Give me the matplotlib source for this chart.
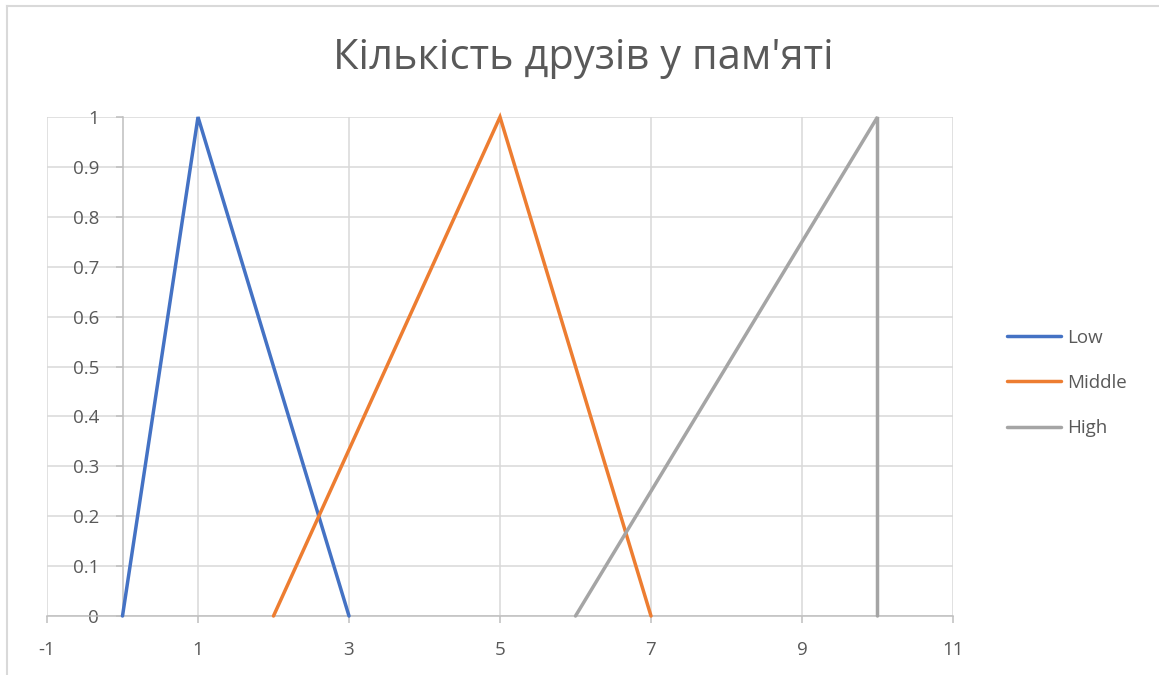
import matplotlib
matplotlib.use("Agg")
import matplotlib.pyplot as plt
from matplotlib.lines import Line2D

# Membership functions for the "number of friends in memory" variable
low_x = [0, 1, 3]
low_y = [0, 1, 0]
middle_x = [2, 5, 7]
middle_y = [0, 1, 0]
high_x = [6, 10, 10]
high_y = [0, 1, 0]

series_names = ["Low", "Middle", "High"]
series_colors = ["#4472C4", "#ED7D31", "#A5A5A5"]

title = "Кількість друзів у пам'яті"
x_ticks = [-1, 1, 3, 5, 7, 9, 11]
y_ticks = [0, 0.1, 0.2, 0.3, 0.4, 0.5, 0.6, 0.7, 0.8, 0.9, 1]
y_tick_labels = ["0", "0.1", "0.2", "0.3", "0.4", "0.5", "0.6", "0.7", "0.8", "0.9", "1"]

text_color = "#595959"
grid_color = "#D9D9D9"
axis_color = "#BFBFBF"

plt.rcParams["font.family"] = ["Open Sans", "DejaVu Sans"]
plt.rcParams["axes.unicode_minus"] = False

W, H = 1159, 675
fig = plt.figure(figsize=(W / 100, H / 100), dpi=100)
fig.patch.set_facecolor("white")

# Plot area in pixel coordinates
px_left, px_right = 47, 953
px_top, px_bottom = 117, 616
ax = fig.add_axes([px_left / W, (H - px_bottom) / H,
                   (px_right - px_left) / W, (px_bottom - px_top) / H])

ax.set_xlim(-1, 11)
ax.set_ylim(0, 1)

for xs, ys, name, col in zip([low_x, middle_x, high_x],
                             [low_y, middle_y, high_y],
                             series_names, series_colors):
    ax.plot(xs, ys, color=col, lw=2.5, label=name, clip_on=False,
            solid_capstyle="round", solid_joinstyle="miter", zorder=3)

# Gridlines
ax.set_xticks(x_ticks)
ax.set_yticks(y_ticks)
ax.set_yticklabels(y_tick_labels)
ax.grid(True, color=grid_color, lw=1.1, zorder=0)
ax.set_axisbelow(True)

# Axes cross at x = 0 and y = 0
for s in ["top", "right"]:
    ax.spines[s].set_visible(False)
ax.spines["left"].set_position(("data", 0))
ax.spines["left"].set_color(axis_color)
ax.spines["left"].set_linewidth(1.1)
ax.spines["bottom"].set_color(axis_color)
ax.spines["bottom"].set_linewidth(1.1)

ax.tick_params(axis="both", colors=axis_color, labelcolor=text_color,
               labelsize=13.5, length=5, width=1.1, direction="out")
ax.tick_params(axis="x", pad=13)
ax.tick_params(axis="y", pad=12)

fig.text(583 / W, 1 - 58 / H, title, ha="center", va="center",
         fontsize=30, color=text_color)

# Legend
handles = [Line2D([0], [0], color=c, lw=2.5, solid_capstyle="round")
           for c in series_colors]
leg = fig.legend(handles, series_names, loc="center left",
                 bbox_to_anchor=(990 / W, 1 - 383 / H), frameon=False,
                 fontsize=13.5, labelcolor=text_color, handlelength=2.9,
                 handletextpad=0.3, labelspacing=1.45)

# Chart border (left and top)
fig.add_artist(Line2D([6.5 / W, 6.5 / W], [0, 1 - 5.5 / H],
                      transform=fig.transFigure, color=grid_color, lw=1.5))
fig.add_artist(Line2D([6.5 / W, 1158 / W], [1 - 5.5 / H, 1 - 5.5 / H],
                      transform=fig.transFigure, color=grid_color, lw=1.5))

fig.savefig("out.png", dpi=100)
